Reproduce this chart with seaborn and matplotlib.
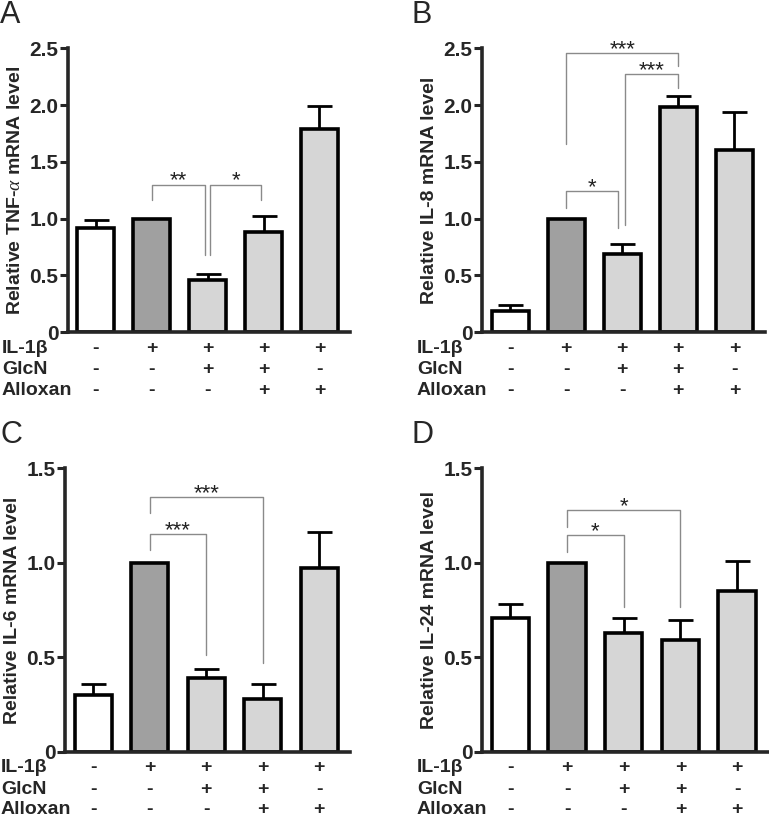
import matplotlib
matplotlib.use('Agg')
import matplotlib.pyplot as plt
import matplotlib.transforms as mtransforms
import seaborn as sns
import pandas as pd
import numpy as np

# groups (same 5 conditions in every panel)
groups = ['ctrl', 'IL1b', 'IL1b+GlcN', 'IL1b+GlcN+Allo', 'IL1b+Allo']
il1b_signs = ['-', '+', '+', '+', '+']
glcn_signs = ['-', '-', '+', '+', '-']
alloxan_signs = ['-', '-', '-', '+', '+']
bar_colors = ['#ffffff', '#a0a0a0', '#d6d6d6', '#d6d6d6', '#d6d6d6']

# panel A - TNF-alpha
tnf_mean = [0.92, 1.00, 0.46, 0.88, 1.79]
tnf_err = [0.07, 0.00, 0.05, 0.14, 0.20]
# panel B - IL-8
il8_mean = [0.19, 1.00, 0.69, 1.98, 1.60]
il8_err = [0.05, 0.00, 0.09, 0.10, 0.34]
# panel C - IL-6
il6_mean = [0.30, 1.00, 0.39, 0.28, 0.97]
il6_err = [0.06, 0.00, 0.05, 0.08, 0.19]
# panel D - IL-24
il24_mean = [0.71, 1.00, 0.63, 0.59, 0.85]
il24_err = [0.07, 0.00, 0.08, 0.11, 0.16]

FONT = ['Liberation Sans', 'DejaVu Sans']
sns.set_style('ticks')
plt.rcParams['font.family'] = FONT
plt.rcParams['mathtext.fontset'] = 'custom'
plt.rcParams['mathtext.it'] = 'Liberation Serif:italic'

W, H = 769.0, 818.0


def bracket(ax, x1, x2, ytop, yl, yr, txt):
    ax.plot([x1, x1, x2, x2], [yl, ytop, ytop, yr], color='#8a8a8a', lw=1.0,
            zorder=1, clip_on=False)
    ax.annotate(txt, ((x1 + x2) / 2, ytop), xytext=(0, 2.5),
                textcoords='offset points', ha='center', va='center',
                fontsize=16, color='#222222')


def painel(ax, means, errs, ylabel, ymax, yticks, letra, letra_xy, lab_x, sig):
    df = pd.DataFrame({'grupo': groups, 'valor': means})
    sns.barplot(data=df, x='grupo', y='valor', hue='grupo', palette=bar_colors,
                legend=False, width=0.66, edgecolor='black', linewidth=2.6,
                ax=ax, zorder=2)
    x = np.arange(len(groups))
    ax.errorbar(x, means, yerr=[np.zeros(len(errs)), errs], fmt='none',
                ecolor='black', elinewidth=2.0, capsize=9, capthick=2.0, zorder=1)
    ax.set_xlim(-0.5, 4.55)
    ax.set_ylim(0, ymax)
    ax.set_yticks(yticks)
    ax.set_yticklabels(['0'] + ['%.1f' % t for t in yticks[1:]],
                       fontsize=15, fontweight='bold')
    ax.set_xticks([])
    ax.set_xlabel('')
    ax.set_ylabel(ylabel, fontsize=14, fontweight='bold')
    ax.yaxis.set_label_coords(-0.155, 0.5)
    sns.despine(ax=ax)
    for s in ['left', 'bottom']:
        ax.spines[s].set_linewidth(2.6)
    ax.tick_params(axis='y', width=2.2, length=6, pad=1)

    trans = mtransforms.blended_transform_factory(ax.transData, ax.transAxes)
    trans_lab = mtransforms.blended_transform_factory(fig.transFigure, ax.transAxes)
    rows = [('IL-1β', il1b_signs, -0.056), ('GlcN', glcn_signs, -0.131),
            ('Alloxan', alloxan_signs, -0.204)]
    for nome, sinais, yy in rows:
        ax.text(lab_x / W, yy, nome, transform=trans_lab, ha='left', va='center',
                fontsize=14, fontweight='bold')
        for i, s in enumerate(sinais):
            ax.text(i, yy, s, transform=trans, ha='center', va='center',
                    fontsize=14, fontweight='bold')
    fig.text(letra_xy[0] / W, 1 - letra_xy[1] / H, letra, ha='left', va='top',
             fontsize=22)
    for b in sig:
        bracket(ax, *b)


fig = plt.figure(figsize=(7.69, 8.18), dpi=100)
axA = fig.add_axes([0.0884, 0.594, 0.367, 0.347])
axB = fig.add_axes([0.627, 0.594, 0.368, 0.347])
axC = fig.add_axes([0.0845, 0.0807, 0.371, 0.347])
axD = fig.add_axes([0.627, 0.0807, 0.372, 0.347])

painel(axA, tnf_mean, tnf_err, r'Relative TNF-$\alpha$ mRNA level', 2.5,
       [0, 0.5, 1.0, 1.5, 2.0, 2.5], 'A', (0, 0), 2,
       [(1, 1.95, 1.30, 1.165, 0.68, '**'), (2.05, 2.95, 1.30, 0.68, 1.165, '*')])
painel(axB, il8_mean, il8_err, 'Relative IL-8 mRNA level', 2.5,
       [0, 0.5, 1.0, 1.5, 2.0, 2.5], 'B', (412, 0), 417,
       [(1, 1.93, 1.24, 1.09, 0.92, '*'), (2.05, 3.0, 2.27, 0.94, 2.15, '***'),
        (1, 3.0, 2.46, 1.66, 2.34, '***')])
painel(axC, il6_mean, il6_err, 'Relative IL-6 mRNA level', 1.5,
       [0, 0.5, 1.0, 1.5], 'C', (0, 420), 1,
       [(1, 2.0, 1.152, 1.068, 0.512, '***'), (1, 3.0, 1.346, 1.262, 0.468, '***')])
painel(axD, il24_mean, il24_err, 'Relative IL-24 mRNA level', 1.5,
       [0, 0.5, 1.0, 1.5], 'D', (412, 420), 417,
       [(1, 2.0, 1.147, 1.059, 0.768, '*'), (1, 3.0, 1.279, 1.19, 0.768, '*')])

plt.savefig('out.png', dpi=100)
